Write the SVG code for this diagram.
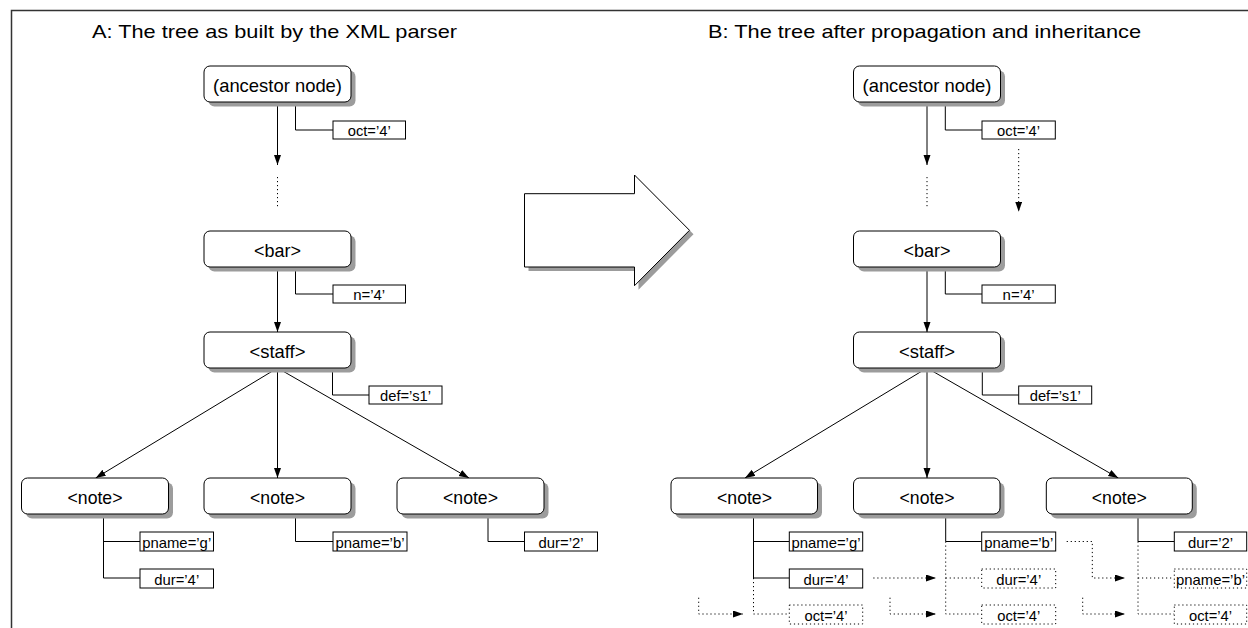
<svg xmlns="http://www.w3.org/2000/svg" width="1248" height="628" viewBox="0 0 1248 628">
<style>
text{font-family:"Liberation Sans",Arial,sans-serif;fill:#000}
.title{font-size:19px}
.nt{font-size:19px;text-anchor:middle}
.at{font-size:15px;text-anchor:middle}
.node{fill:#fff;stroke:#000;stroke-width:1}
.shadow{fill:#9c9c9c;stroke:none}
.box{fill:#fff;stroke:#000;stroke-width:1}
.dbox{fill:#fff;stroke:#000;stroke-width:1;stroke-dasharray:1.2 2.8}
.ln{fill:none;stroke:#000;stroke-width:1}
.dl{fill:none;stroke:#000;stroke-width:1;stroke-dasharray:1.2 2.8}
</style>
<defs>
<marker id="ah" markerUnits="userSpaceOnUse" markerWidth="11" markerHeight="8" refX="10" refY="3.5" orient="auto">
<path d="M0,0 L10,3.5 L0,7 z" fill="#000"/>
</marker>
</defs>
<rect width="1248" height="628" fill="#fff"/>
<path d="M11.5,628 V10.5 H1248" fill="none" stroke="#333" stroke-width="1.5"/>
<text class="title" x="92" y="38" textLength="365" lengthAdjust="spacingAndGlyphs">A: The tree as built by the XML parser</text>
<text class="title" x="708" y="38" textLength="433" lengthAdjust="spacingAndGlyphs">B: The tree after propagation and inheritance</text>

<g id="bigarrow">
<polygon points="528.5,197.7 638.5,197.7 638.5,179 693.5,234.3 638.5,289.7 638.5,271 528.5,271" class="shadow"/>
<polygon points="524.5,193.7 634.5,193.7 634.5,175 689.5,230.3 634.5,285.7 634.5,267 524.5,267" fill="#fff" stroke="#000" stroke-width="1"/>
</g>

<g id="connectors">
<line class="ln" x1="277.5" y1="102" x2="277.5" y2="165" marker-end="url(#ah)"/>
<line class="dl" x1="277.5" y1="177" x2="277.5" y2="209"/>
<line class="ln" x1="277.5" y1="267" x2="277.5" y2="332" marker-end="url(#ah)"/>
<line class="ln" x1="277.5" y1="368" x2="95.7" y2="478" marker-end="url(#ah)"/>
<line class="ln" x1="277.5" y1="368" x2="277.5" y2="478" marker-end="url(#ah)"/>
<line class="ln" x1="277.5" y1="368" x2="469" y2="478" marker-end="url(#ah)"/>
<path class="ln" d="M295.5,102 V130 H333"/>
<path class="ln" d="M295.5,267 V294 H333"/>
<path class="ln" d="M332.5,368 V395 H369"/>
<path class="ln" d="M103.5,514 V578 H140 M103.5,541.5 H140"/>
<path class="ln" d="M295.5,514 V541.5 H333"/>
<path class="ln" d="M488,514 V541.5 H524.5"/>
<line class="ln" x1="927" y1="102" x2="927" y2="165" marker-end="url(#ah)"/>
<line class="dl" x1="927" y1="177" x2="927" y2="209"/>
<line class="dl" x1="1018.7" y1="149" x2="1018.7" y2="211.7" marker-end="url(#ah)"/>
<line class="ln" x1="927" y1="267" x2="927" y2="332" marker-end="url(#ah)"/>
<line class="ln" x1="927" y1="368" x2="745" y2="478" marker-end="url(#ah)"/>
<line class="ln" x1="927" y1="368" x2="927" y2="478" marker-end="url(#ah)"/>
<line class="ln" x1="927" y1="368" x2="1118.3" y2="478" marker-end="url(#ah)"/>
<path class="ln" d="M945.3,102 V130 H982"/>
<path class="ln" d="M945.3,267 V294 H982"/>
<path class="ln" d="M982.3,368 V395 H1018.7"/>
<path class="ln" d="M753.5,514 V578 H789.3 M753.5,541.5 H789.3"/>
<path class="dl" d="M753.5,578 V614 H789.3"/>
<path class="dl" d="M698.7,597.7 V614 H743" marker-end="url(#ah)"/>
<path class="dl" d="M873.3,578 H936" marker-end="url(#ah)"/>
<path class="ln" d="M945.7,514 V541.5 H981.7"/>
<path class="dl" d="M945.7,541.5 V614 H981.7 M945.7,578 H981.7"/>
<path class="dl" d="M890,597.7 V614 H936" marker-end="url(#ah)"/>
<path class="dl" d="M1066.7,541.5 H1092.3 V578 H1125" marker-end="url(#ah)"/>
<path class="ln" d="M1138,514 V541.5 H1174.3"/>
<path class="dl" d="M1138,541.5 V614 H1174.3 M1138,578 H1174.3"/>
<path class="dl" d="M1082.7,597.7 V614 H1125" marker-end="url(#ah)"/>
</g>

<g id="a-ancestor"><rect class="shadow" x="208.5" y="70.5" width="147" height="36" rx="6"/><rect class="node" x="204" y="66" width="147" height="36" rx="6"/><text class="nt" x="277.5" y="92" textLength="129" lengthAdjust="spacingAndGlyphs">(ancestor node)</text></g>
<g id="a-bar"><rect class="shadow" x="208.5" y="235.5" width="147" height="36" rx="6"/><rect class="node" x="204" y="231" width="147" height="36" rx="6"/><text class="nt" x="277.5" y="256.5" textLength="47" lengthAdjust="spacingAndGlyphs">&lt;bar&gt;</text></g>
<g id="a-staff"><rect class="shadow" x="208.5" y="336.5" width="147" height="36" rx="6"/><rect class="node" x="204" y="332" width="147" height="36" rx="6"/><text class="nt" x="277.5" y="357.5" textLength="56" lengthAdjust="spacingAndGlyphs">&lt;staff&gt;</text></g>
<g id="a-note1"><rect class="shadow" x="26" y="482.5" width="147" height="36" rx="6"/><rect class="node" x="21.5" y="478" width="147" height="36" rx="6"/><text class="nt" x="95" y="503.5" textLength="55" lengthAdjust="spacingAndGlyphs">&lt;note&gt;</text></g>
<g id="a-note2"><rect class="shadow" x="208.5" y="482.5" width="147" height="36" rx="6"/><rect class="node" x="204" y="478" width="147" height="36" rx="6"/><text class="nt" x="277.5" y="503.5" textLength="55" lengthAdjust="spacingAndGlyphs">&lt;note&gt;</text></g>
<g id="a-note3"><rect class="shadow" x="401.5" y="482.5" width="147" height="36" rx="6"/><rect class="node" x="397" y="478" width="147" height="36" rx="6"/><text class="nt" x="470.5" y="503.5" textLength="55" lengthAdjust="spacingAndGlyphs">&lt;note&gt;</text></g>

<g id="a-attr-oct"><rect class="box" x="333" y="121" width="72.5" height="18"/><text class="at" x="369.2" y="136" textLength="43" lengthAdjust="spacingAndGlyphs">oct=’4’</text></g>
<g id="a-attr-n"><rect class="box" x="333" y="285" width="72.5" height="18"/><text class="at" x="369.2" y="300" textLength="32" lengthAdjust="spacingAndGlyphs">n=’4’</text></g>
<g id="a-attr-def"><rect class="box" x="369" y="386" width="73" height="18"/><text class="at" x="405.5" y="401" textLength="51" lengthAdjust="spacingAndGlyphs">def=’s1’</text></g>
<g id="a-attr-pname-g"><rect class="box" x="140" y="532" width="73.5" height="19"/><text class="at" x="176.7" y="547.5" textLength="69" lengthAdjust="spacingAndGlyphs">pname=’g’</text></g>
<g id="a-attr-dur4"><rect class="box" x="140" y="569" width="73.5" height="19"/><text class="at" x="176.7" y="584.5" textLength="45" lengthAdjust="spacingAndGlyphs">dur=’4’</text></g>
<g id="a-attr-pname-b"><rect class="box" x="333" y="532" width="74" height="19"/><text class="at" x="370" y="547.5" textLength="69" lengthAdjust="spacingAndGlyphs">pname=’b’</text></g>
<g id="a-attr-dur2"><rect class="box" x="524.5" y="532" width="73" height="19"/><text class="at" x="561" y="547.5" textLength="45" lengthAdjust="spacingAndGlyphs">dur=’2’</text></g>

<g id="b-ancestor"><rect class="shadow" x="858" y="70.5" width="147" height="36" rx="6"/><rect class="node" x="853.5" y="66" width="147" height="36" rx="6"/><text class="nt" x="927" y="92" textLength="129" lengthAdjust="spacingAndGlyphs">(ancestor node)</text></g>
<g id="b-bar"><rect class="shadow" x="858" y="235.5" width="147" height="36" rx="6"/><rect class="node" x="853.5" y="231" width="147" height="36" rx="6"/><text class="nt" x="927" y="256.5" textLength="47" lengthAdjust="spacingAndGlyphs">&lt;bar&gt;</text></g>
<g id="b-staff"><rect class="shadow" x="858" y="336.5" width="147" height="36" rx="6"/><rect class="node" x="853.5" y="332" width="147" height="36" rx="6"/><text class="nt" x="927" y="357.5" textLength="56" lengthAdjust="spacingAndGlyphs">&lt;staff&gt;</text></g>
<g id="b-note1"><rect class="shadow" x="675.5" y="482.5" width="146.5" height="36" rx="6"/><rect class="node" x="671" y="478" width="146.5" height="36" rx="6"/><text class="nt" x="744.5" y="503.5" textLength="55" lengthAdjust="spacingAndGlyphs">&lt;note&gt;</text></g>
<g id="b-note2"><rect class="shadow" x="858" y="482.5" width="146.5" height="36" rx="6"/><rect class="node" x="853.5" y="478" width="146.5" height="36" rx="6"/><text class="nt" x="927" y="503.5" textLength="55" lengthAdjust="spacingAndGlyphs">&lt;note&gt;</text></g>
<g id="b-note3"><rect class="shadow" x="1050.8" y="482.5" width="146" height="36" rx="6"/><rect class="node" x="1046.3" y="478" width="146" height="36" rx="6"/><text class="nt" x="1119.3" y="503.5" textLength="55" lengthAdjust="spacingAndGlyphs">&lt;note&gt;</text></g>

<g id="b-attr-oct"><rect class="box" x="982" y="121" width="73.3" height="18"/><text class="at" x="1018.6" y="136" textLength="43" lengthAdjust="spacingAndGlyphs">oct=’4’</text></g>
<g id="b-attr-n"><rect class="box" x="982" y="285" width="73.3" height="18"/><text class="at" x="1018.6" y="300" textLength="32" lengthAdjust="spacingAndGlyphs">n=’4’</text></g>
<g id="b-attr-def"><rect class="box" x="1018.7" y="386" width="73" height="18"/><text class="at" x="1055.2" y="401" textLength="51" lengthAdjust="spacingAndGlyphs">def=’s1’</text></g>
<g id="b-attr-pname-g"><rect class="box" x="789.3" y="532" width="73.4" height="19"/><text class="at" x="826" y="547.5" textLength="69" lengthAdjust="spacingAndGlyphs">pname=’g’</text></g>
<g id="b-attr-dur4"><rect class="box" x="789.3" y="569" width="73.4" height="19"/><text class="at" x="826" y="584.5" textLength="45" lengthAdjust="spacingAndGlyphs">dur=’4’</text></g>
<g id="b-attr-oct1"><rect class="dbox" x="789.3" y="605" width="73.4" height="19"/><text class="at" x="826" y="620.5" textLength="43" lengthAdjust="spacingAndGlyphs">oct=’4’</text></g>
<g id="b-attr-pname-b"><rect class="box" x="981.7" y="532" width="74" height="19"/><text class="at" x="1018.7" y="547.5" textLength="69" lengthAdjust="spacingAndGlyphs">pname=’b’</text></g>
<g id="b-attr-dur4-2"><rect class="dbox" x="981.7" y="569" width="74" height="19"/><text class="at" x="1018.7" y="584.5" textLength="45" lengthAdjust="spacingAndGlyphs">dur=’4’</text></g>
<g id="b-attr-oct2"><rect class="dbox" x="981.7" y="605" width="74" height="19"/><text class="at" x="1018.7" y="620.5" textLength="43" lengthAdjust="spacingAndGlyphs">oct=’4’</text></g>
<g id="b-attr-dur2"><rect class="box" x="1174.3" y="532" width="72.4" height="19"/><text class="at" x="1210.5" y="547.5" textLength="45" lengthAdjust="spacingAndGlyphs">dur=’2’</text></g>
<g id="b-attr-pname-b3"><rect class="dbox" x="1174.3" y="569" width="72.4" height="19"/><text class="at" x="1210.5" y="584.5" textLength="69" lengthAdjust="spacingAndGlyphs">pname=’b’</text></g>
<g id="b-attr-oct3"><rect class="dbox" x="1174.3" y="605" width="72.4" height="19"/><text class="at" x="1210.5" y="620.5" textLength="43" lengthAdjust="spacingAndGlyphs">oct=’4’</text></g>
</svg>
